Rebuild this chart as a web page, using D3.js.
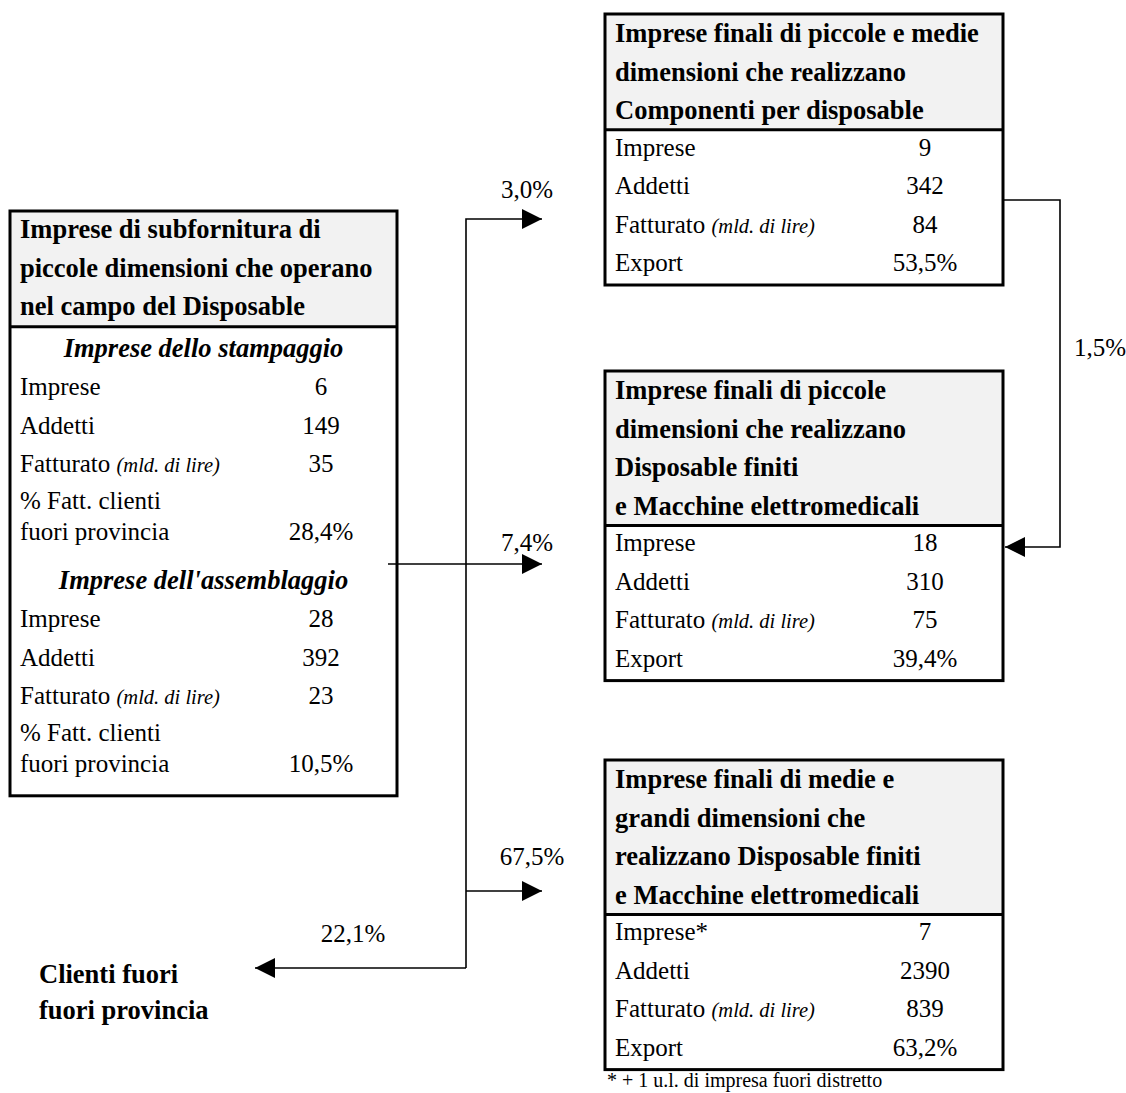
<!DOCTYPE html>
<html>
<head>
<meta charset="utf-8">
<style>
  body { margin: 0; background: #fff; }
  svg text { font-family: "Liberation Serif", "Times New Roman", serif; fill: #000; }
  .title { font-weight: bold; font-size: 26.5px; }
  .row { font-size: 25px; }
  .small { font-size: 20.5px; font-style: italic; }
  .section { font-weight: bold; font-style: italic; font-size: 26.5px; }
</style>
<script src="https://d3js.org/d3.v7.min.js"></script>
</head>
<body>
<svg id="svg" width="1126" height="1093"></svg>
<script>
// ---- data ----
const rowLabels = ["Imprese", "Addetti", "Fatturato", "Export"];

const componentiTitle = ["Imprese finali di piccole e medie", "dimensioni che realizzano", "Componenti per disposable"];
const componentiValues = ["9", "342", "84", "53,5%"];

const piccoleTitle = ["Imprese finali di piccole", "dimensioni che realizzano", "Disposable finiti", "e Macchine elettromedicali"];
const piccoleValues = ["18", "310", "75", "39,4%"];

const grandiTitle = ["Imprese finali di medie e", "grandi dimensioni che", "realizzano Disposable finiti", "e Macchine elettromedicali"];
const grandiLabels = ["Imprese*", "Addetti", "Fatturato", "Export"];
const grandiValues = ["7", "2390", "839", "63,2%"];

const subTitle = ["Imprese di subfornitura di", "piccole dimensioni che operano", "nel campo del Disposable"];
const subSections = ["Imprese dello stampaggio", "Imprese dell'assemblaggio"];
const subLabels = ["Imprese", "Addetti", "Fatturato", "% Fatt. clienti|fuori provincia"];
const stampaggioValues = ["6", "149", "35", "28,4%"];
const assemblaggioValues = ["28", "392", "23", "10,5%"];

const flowLabels = ["3,0%", "7,4%", "67,5%", "22,1%", "1,5%"];
const clientiLabel = ["Clienti fuori", "fuori provincia"];
const footnote = "* + 1 u.l. di impresa fuori distretto";
const fattUnit = "(mld. di lire)";

// ---- drawing ----
const svg = d3.select("#svg");
const pitch = 38.6;

function label(g, text, x, y) {
  const t = g.append("text").attr("class", "row").attr("x", x).attr("y", y);
  if (text === "Fatturato") {
    t.append("tspan").text("Fatturato ");
    t.append("tspan").attr("class", "small").text(fattUnit);
  } else {
    t.text(text);
  }
}

function finalBox(top, title, labels, values) {
  const x0 = 605, x1 = 1003;
  const g = svg.append("g");
  const hb = top + pitch * title.length;
  const rowY = d3.scaleLinear().domain([0, 1]).range([hb + 26, hb + 26 + 38.4]);
  const bottom = rowY(labels.length - 1) + 14;
  g.append("rect").attr("x", x0).attr("y", top).attr("width", x1 - x0).attr("height", hb - top)
    .attr("fill", "#f2f2f2");
  g.selectAll("text.title").data(title).join("text")
    .attr("class", "title").attr("x", 615).attr("y", (d, i) => top + 28 + i * pitch).text(d => d);
  labels.forEach((d, i) => label(g, d, 615, rowY(i)));
  g.selectAll("text.val").data(values).join("text")
    .attr("class", "row val").attr("x", 925).attr("y", (d, i) => rowY(i))
    .attr("text-anchor", "middle").text(d => d);
  g.append("line").attr("x1", x0).attr("x2", x1).attr("y1", hb).attr("y2", hb)
    .attr("stroke", "#000").attr("stroke-width", 3);
  g.append("rect").attr("x", x0).attr("y", top).attr("width", x1 - x0).attr("height", bottom - top)
    .attr("fill", "none").attr("stroke", "#000").attr("stroke-width", 3);
  return { top, hb, bottom };
}

const boxA = finalBox(14, componentiTitle, rowLabels, componentiValues);
const boxB = finalBox(371, piccoleTitle, rowLabels, piccoleValues);
const boxC = finalBox(760, grandiTitle, grandiLabels, grandiValues);

svg.append("text").attr("x", 607).attr("y", boxC.bottom + 17)
  .style("font-size", "20px").text(footnote);

// left box
(function () {
  const x0 = 10, x1 = 397, top = 211;
  const g = svg.append("g");
  const hb = top + pitch * subTitle.length;
  g.append("rect").attr("x", x0).attr("y", top).attr("width", x1 - x0).attr("height", hb - top)
    .attr("fill", "#f2f2f2");
  g.selectAll("text.title").data(subTitle).join("text")
    .attr("class", "title").attr("x", 20).attr("y", (d, i) => top + 27 + i * pitch).text(d => d);
  const sectionY = d3.scaleLinear().domain([0, 1]).range([hb + 30, hb + 262]);
  const offs = [38, 77, 115, 152];
  let last = 0;
  [stampaggioValues, assemblaggioValues].forEach((vals, s) => {
    const sy = sectionY(s);
    g.append("text").attr("class", "section").attr("x", (x0 + x1) / 2).attr("y", sy)
      .attr("text-anchor", "middle").text(subSections[s]);
    subLabels.forEach((lab, i) => {
      const parts = lab.split("|");
      const y = sy + offs[i];
      parts.forEach((p, k) => label(g, p, 20, y + k * 31));
      const vy = y + (parts.length - 1) * 31;
      g.append("text").attr("class", "row").attr("x", 321).attr("y", vy)
        .attr("text-anchor", "middle").text(vals[i]);
      last = vy;
    });
  });
  const bottom = last + 24;
  g.append("line").attr("x1", x0).attr("x2", x1).attr("y1", hb).attr("y2", hb)
    .attr("stroke", "#000").attr("stroke-width", 3);
  g.append("rect").attr("x", x0).attr("y", top).attr("width", x1 - x0).attr("height", bottom - top)
    .attr("fill", "none").attr("stroke", "#000").attr("stroke-width", 3);
})();

// connectors
svg.append("defs").append("marker")
  .attr("id", "arrow").attr("viewBox", "0 0 20 20").attr("refX", 20).attr("refY", 10)
  .attr("markerWidth", 20).attr("markerHeight", 20).attr("markerUnits", "userSpaceOnUse")
  .attr("orient", "auto")
  .append("path").attr("d", "M0,0 L20,10 L0,20 Z").attr("fill", "#000");

const trunkX = 466, tip = 542;
const line = d3.line();
const paths = [
  [[trunkX, 968], [trunkX, 219], [tip, 219]],
  [[388, 564], [tip, 564]],
  [[trunkX, 891], [tip, 891]],
  [[trunkX, 968], [255, 968]],
  [[1003, 200], [1060, 200], [1060, 547], [1005, 547]]
];
svg.selectAll("path.flow").data(paths).join("path")
  .attr("class", "flow").attr("d", d => line(d))
  .attr("fill", "none").attr("stroke", "#000").attr("stroke-width", 1.6)
  .attr("marker-end", "url(#arrow)");

const labelPos = [[527, 198], [527, 551], [532, 865], [353, 942], [1100, 356]];
svg.selectAll("text.flowlab").data(flowLabels).join("text")
  .attr("class", "row flowlab").attr("text-anchor", "middle")
  .attr("x", (d, i) => labelPos[i][0]).attr("y", (d, i) => labelPos[i][1]).text(d => d);

svg.selectAll("text.clienti").data(clientiLabel).join("text")
  .attr("class", "title clienti").attr("x", 39).attr("y", (d, i) => 983 + i * 36).text(d => d);
</script>
</body>
</html>
